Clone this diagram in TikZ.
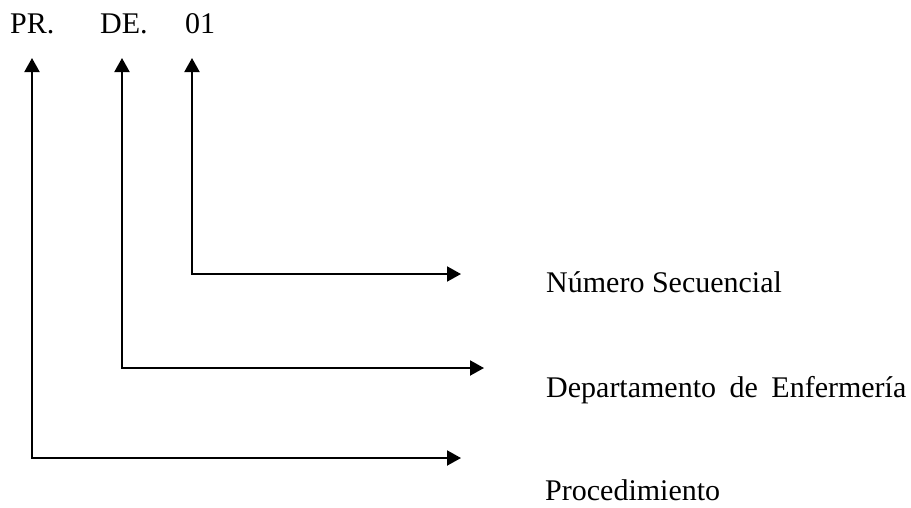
\documentclass[tikz,border=0pt]{standalone}
\usepackage{fontspec}
\setmainfont{Liberation Serif}
\usetikzlibrary{arrows.meta}
\begin{document}
\begin{tikzpicture}[x=1pt,y=-1pt,
  code/.style={anchor=base west,inner sep=0pt,font=\fontsize{30}{35}\selectfont},
  label/.style={anchor=base west,inner sep=0pt,font=\fontsize{30}{35}\selectfont},
  pointer/.style={line width=2pt,{Triangle[length=14pt,width=15pt]}-{Triangle[length=14pt,width=15pt]}}]
\useasboundingbox (0,0) rectangle (911,507);
% code parts
\node[code] (pr) at (10,33) {PR.};
\node[code] (de) at (100,33) {DE.};
\node[code] (num) at (185,33) {01};
% meanings
\node[label] (lnum) at (546,292) {Número Secuencial};
\node[label] (ldep) at (546,397) {Departamento\hspace{0.45em}de\hspace{0.45em}Enfermería};
\node[label] (lpro) at (545,500) {Procedimiento};
% arrow ends
\coordinate (prTip) at (32,58);
\coordinate (deTip) at (122,58);
\coordinate (numTip) at (192,58);
\coordinate (prEnd) at (461,458);
\coordinate (deEnd) at (484,368);
\coordinate (numEnd) at (461,274);
% pointers
\draw[pointer] (prTip) |- (prEnd);
\draw[pointer] (deTip) |- (deEnd);
\draw[pointer] (numTip) |- (numEnd);
\end{tikzpicture}
\end{document}
